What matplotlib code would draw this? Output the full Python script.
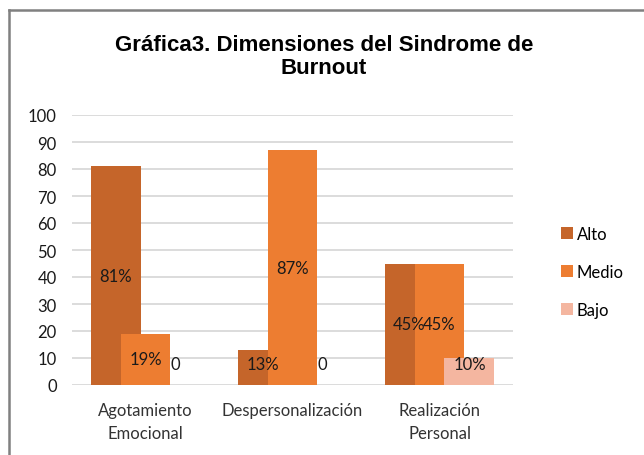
import matplotlib
matplotlib.use("Agg")
import matplotlib.pyplot as plt
from matplotlib.lines import Line2D
import numpy as np

categories = ["Agotamiento\nEmocional", "Despersonalización", "Realización\nPersonal"]
series_names = ["Alto", "Medio", "Bajo"]
alto = [81, 13, 45]
medio = [19, 87, 45]
bajo = [0, 0, 10]
labels_alto = ["81%", "13%", "45%"]
labels_medio = ["19%", "87%", "45%"]
labels_bajo = ["0", "0", "10%"]
yticks = [0, 10, 20, 30, 40, 50, 60, 70, 80, 90, 100]
title = "Gráfica3. Dimensiones del Sindrome de\nBurnout"

colors = ["#C5652A", "#ED7D31", "#F4B6A0"]

fig = plt.figure(figsize=(6.44, 4.56), dpi=100)
ax = fig.add_axes([72/644, 1-386/456, (513-72)/644, (386-116)/456])

x = np.arange(len(categories))
w = 0.34
off = 0.204
font = "Lato"
fs = 12
for i, (vals, labs) in enumerate(zip([alto, medio, bajo], [labels_alto, labels_medio, labels_bajo])):
    xs = x + (i - 1) * off
    ax.bar(xs, vals, width=w, color=colors[i], label=series_names[i], zorder=2 + i)
    for xx, v, lab in zip(xs, vals, labs):
        ax.text(xx, max(v / 2, 7.8), lab, ha="center", va="center", fontsize=fs,
                family=font, color="#1a1a1a", zorder=10)

ax.set_xlim(-0.5, 2.5)
ax.set_ylim(0, 100)
ax.set_yticks(yticks)
ax.set_yticklabels([str(t) for t in yticks], family=font, fontsize=fs, color="#1a1a1a")
ax.set_xticks(x)
ax.set_xticklabels(categories, family=font, fontsize=fs, color="#333333", linespacing=1.55)
ax.tick_params(axis="both", length=0)
ax.tick_params(axis="y", pad=11)
ax.tick_params(axis="x", pad=12)
ax.grid(axis="y", color="#D9D9D9", linewidth=1.3, zorder=0)
ax.set_axisbelow(True)
for s in ax.spines.values():
    s.set_visible(False)

fig.text(324/644, 1-57/456, title, ha="center", va="center", fontsize=16,
         family="Liberation Sans", weight="bold", linespacing=1.15)

leg = fig.legend(loc="center left", bbox_to_anchor=(546/644, 1-273/456), frameon=False,
                 prop={"family": font, "size": fs}, handlelength=0.7, handleheight=0.7,
                 handletextpad=0.25, labelspacing=1.32)

fig.add_artist(Line2D([8.5/644, 8.5/644], [0, 1-11/456], color="#808080", linewidth=1.8))
fig.add_artist(Line2D([8.5/644, 1], [1-11/456, 1-11/456], color="#808080", linewidth=1.8))

fig.savefig("out.png", dpi=100)
